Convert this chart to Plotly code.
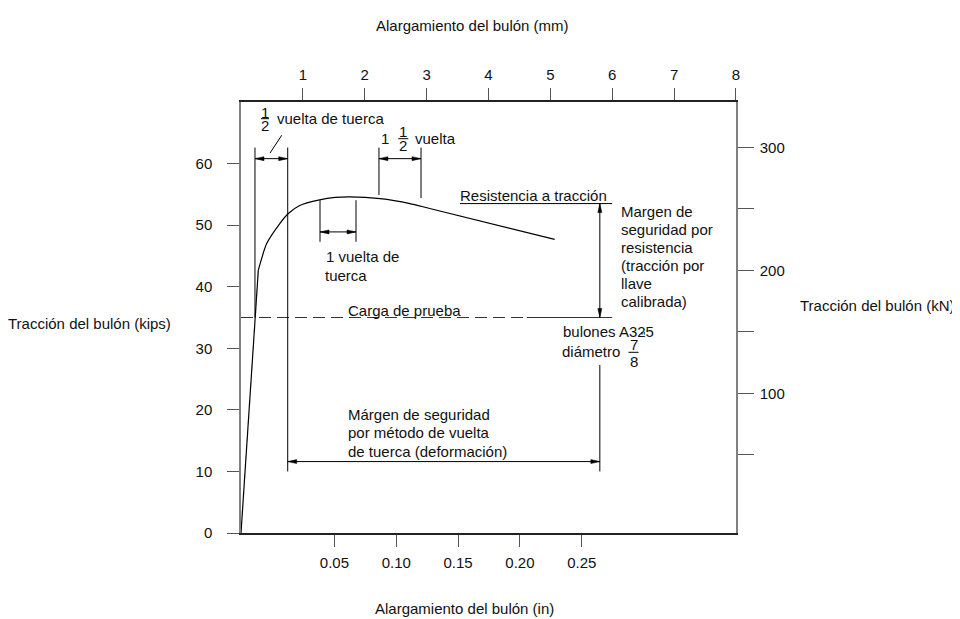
import plotly.graph_objects as go

# load-elongation curve (x on the mm scale, y in kips)
elong_mm = [0, 0.28, 0.415, 0.63, 0.765, 0.95, 1.27, 1.52, 1.76, 2.25, 2.73, 3.05, 5.07]
tension_kips = [0, 42.7, 47.0, 50.3, 51.9, 53.2, 54.1, 54.5, 54.6, 54.3, 53.5, 52.7, 47.7]

# axis ticks
mm_ticks = [1, 2, 3, 4, 5, 6, 7, 8]
in_ticks = [0.05, 0.10, 0.15, 0.20, 0.25]
in_labels = ['0.05', '0.10', '0.15', '0.20', '0.25']
kips_ticks = [0, 10, 20, 30, 40, 50, 60]
kn_ticks = [50, 100, 150, 200, 250, 300]
kn_labels = ['', '100', '', '200', '', '300']

# reference levels (kips) and where they stop (mm)
proof_load = 35
tensile_strength = 53.5
proof_dash_end = 4.62
level_start_strength = 3.54
level_end = 6.0

# extension lines of the dimensions: x in mm, top / bottom in kips
ext_x = [0.226, 0.755, 2.23, 2.91, 1.277, 1.859, 5.80]
ext_top = [62.6, 62.6, 62.6, 62.6, 54.05, 54.05, 27.3]
ext_bot = [35.0, 10.0, 54.9, 54.4, 47.3, 47.3, 10.0]

# horizontal dimension arrows (mm from, mm to, kips)
dim_from = [0.226, 2.23, 1.277, 0.755]
dim_to = [0.755, 2.91, 1.859, 5.80]
dim_y = [60.8, 60.8, 48.9, 11.6]

# vertical arrow: margin between proof load and tensile strength
margin_x = 5.80

# leader for "1/2 vuelta de tuerca"
leader_mm = [0.658, 0.469]
leader_kips = [64.6, 61.7]

FONT = dict(family='Arial, Liberation Sans, sans-serif', size=15, color='#111111')
AXIS_GRAY = '#808080'

# plot area as seen on the page (the page body adds an 8 px offset)
PX_L, PX_R, PX_T, PX_B = 241, 736, 102, 533
OFF = 8


def paper(xp, yp):
    return (xp - PX_L) / (PX_R - PX_L), (PX_B - yp) / (PX_B - PX_T)


fig = go.Figure()

# straight elastic part and the curved part
fig.add_trace(go.Scatter(x=elong_mm[:2], y=tension_kips[:2], xaxis='x2', yaxis='y',
                         mode='lines', line=dict(color='black', width=1.2), showlegend=False))
fig.add_trace(go.Scatter(x=elong_mm[1:], y=tension_kips[1:], xaxis='x2', yaxis='y',
                         mode='lines', line=dict(color='black', width=1.2, shape='spline', smoothing=0.6),
                         showlegend=False))
# invisible trace so the kN axis is drawn
fig.add_trace(go.Scatter(x=[None], y=[None], xaxis='x', yaxis='y2', showlegend=False))

line_k = dict(color='black', width=1)

# proof load: dashed then solid
fig.add_shape(type='line', xref='x2', yref='y', x0=0, x1=proof_dash_end, y0=proof_load, y1=proof_load,
              line=dict(color='#333333', width=1.2, dash='12px,6px'))
fig.add_shape(type='line', xref='x2', yref='y', x0=proof_dash_end, x1=level_end, y0=proof_load, y1=proof_load,
              line=dict(color='#333333', width=1.2))
# tensile strength level
fig.add_shape(type='line', xref='x2', yref='y', x0=level_start_strength, x1=level_end,
              y0=tensile_strength, y1=tensile_strength, line=line_k)

# extension lines
for x, t, b in zip(ext_x, ext_top, ext_bot):
    fig.add_shape(type='line', xref='x2', yref='y', x0=x, x1=x, y0=b, y1=t, line=line_k)

# leader
fig.add_shape(type='line', xref='x2', yref='y', x0=leader_mm[0], x1=leader_mm[1],
              y0=leader_kips[0], y1=leader_kips[1], line=line_k)

HEAD = {
    'right': 'M0,0 L-9,2 L-9,-2 Z',
    'left': 'M0,0 L9,2 L9,-2 Z',
    'up': 'M0,0 L-2,-9 L2,-9 Z',
    'down': 'M0,0 L-2,9 L2,9 Z',
}


def arrowhead(x, y, d):
    fig.add_shape(type='path', xref='x2', yref='y', xsizemode='pixel', ysizemode='pixel',
                  xanchor=x, yanchor=y, path=HEAD[d], fillcolor='black', line=dict(color='black', width=0.5))


# horizontal double arrows
for a, b, y in zip(dim_from, dim_to, dim_y):
    fig.add_shape(type='line', xref='x2', yref='y', x0=a, x1=b, y0=y, y1=y, line=line_k)
    arrowhead(a, y, 'left')
    arrowhead(b, y, 'right')

# vertical double arrow
fig.add_shape(type='line', xref='x2', yref='y', x0=margin_x, x1=margin_x,
              y0=proof_load, y1=tensile_strength, line=line_k)
arrowhead(margin_x, tensile_strength, 'up')
arrowhead(margin_x, proof_load, 'down')


def text(s, xp, yp, anchor='left', size=15):
    x, y = paper(xp, yp)
    fig.add_annotation(text=s, xref='paper', yref='paper', x=x, y=y, xanchor=anchor, yanchor='middle',
                       showarrow=False, font=dict(FONT, size=size))


def frac_bar(xp, yp, half):
    x, y = paper(xp, yp)
    fig.add_shape(type='line', xref='paper', yref='paper', xsizemode='pixel', xanchor=x,
                  x0=-half, x1=half, y0=y, y1=y, line=dict(color='black', width=1))


# axis titles
text('Alargamiento del bulón (mm)', 472, 25, 'center')
text('Alargamiento del bulón (in)', 464, 608, 'center')
text('Tracción del bulón (kips)', 89, 323, 'center')
text('Tracción del bulón (kN)', 877, 305, 'center')

# 1/2 vuelta de tuerca
text('1', 265, 112, 'center')
frac_bar(265, 118.7, 4)
text('2', 265, 125.3, 'center')
text('vuelta de tuerca', 275, 118.5)

# 1 1/2 vuelta
text('1', 385, 138.7, 'center')
text('1', 403.3, 132, 'center')
frac_bar(403.3, 138.7, 5)
text('2', 403.3, 145.3, 'center')
text('vuelta', 413, 138.7)

# 1 vuelta de tuerca
text('1 vuelta de', 324, 256.7)
text('tuerca', 323, 275)

text('Carga de prueba', 346, 310)
text('Resistencia a tracción', 458, 195)

for i, s in enumerate(['Margen de', 'seguridad por', 'resistencia', '(tracción por', 'llave', 'calibrada)']):
    text(s, 619, 211.5 + 18 * i)

text('bulones A325', 561, 331.7)
text('diámetro', 560, 351.7)
text('7', 633.5, 344, 'center')
frac_bar(633.5, 352.3, 5)
text('8', 633.5, 361, 'center')
text('"', 643, 337, 'center', 12)

for i, s in enumerate(['Márgen de seguridad', 'por método de vuelta', 'de tuerca (deformación)']):
    text(s, 346, 414 + 18.5 * i)

tick_font = dict(FONT)

fig.update_layout(
    width=960, height=619,
    margin=dict(l=PX_L - OFF, r=960 - (PX_R - OFF), t=PX_T - OFF, b=619 - (PX_B - OFF)),
    paper_bgcolor='white', plot_bgcolor='white',
    showlegend=False,
    font=FONT,
    xaxis=dict(range=[-0.0255, 0.3747], tickvals=in_ticks, ticktext=in_labels, ticks='outside',
               ticklen=12, tickcolor='#555555', showline=True, linecolor='#222222', linewidth=1.5,
               showgrid=False, zeroline=False, tickfont=tick_font, ticklabelstandoff=3),
    xaxis2=dict(range=[0, 8.001], overlaying='x', side='top', tickvals=mm_ticks, ticks='outside',
                ticklen=12, tickcolor='#555555', showline=True, linecolor='#222222', linewidth=1.5,
                showgrid=False, zeroline=False, tickfont=tick_font, ticklabelstandoff=2),
    yaxis=dict(range=[0, 70], tickvals=kips_ticks, ticks='outside', ticklen=12, tickcolor='#555555',
               showline=True, linecolor=AXIS_GRAY, linewidth=1.5, showgrid=False, zeroline=False,
               tickfont=tick_font, ticklabelstandoff=12),
    yaxis2=dict(range=[-13.6, 336.8], overlaying='y', side='right', tickvals=kn_ticks, ticktext=kn_labels,
                ticks='outside', ticklen=16, tickcolor='#555555', showline=True, linecolor=AXIS_GRAY,
                linewidth=1.5, showgrid=False, zeroline=False, tickfont=tick_font, ticklabelstandoff=3),
)

fig.write_html("out.html")
